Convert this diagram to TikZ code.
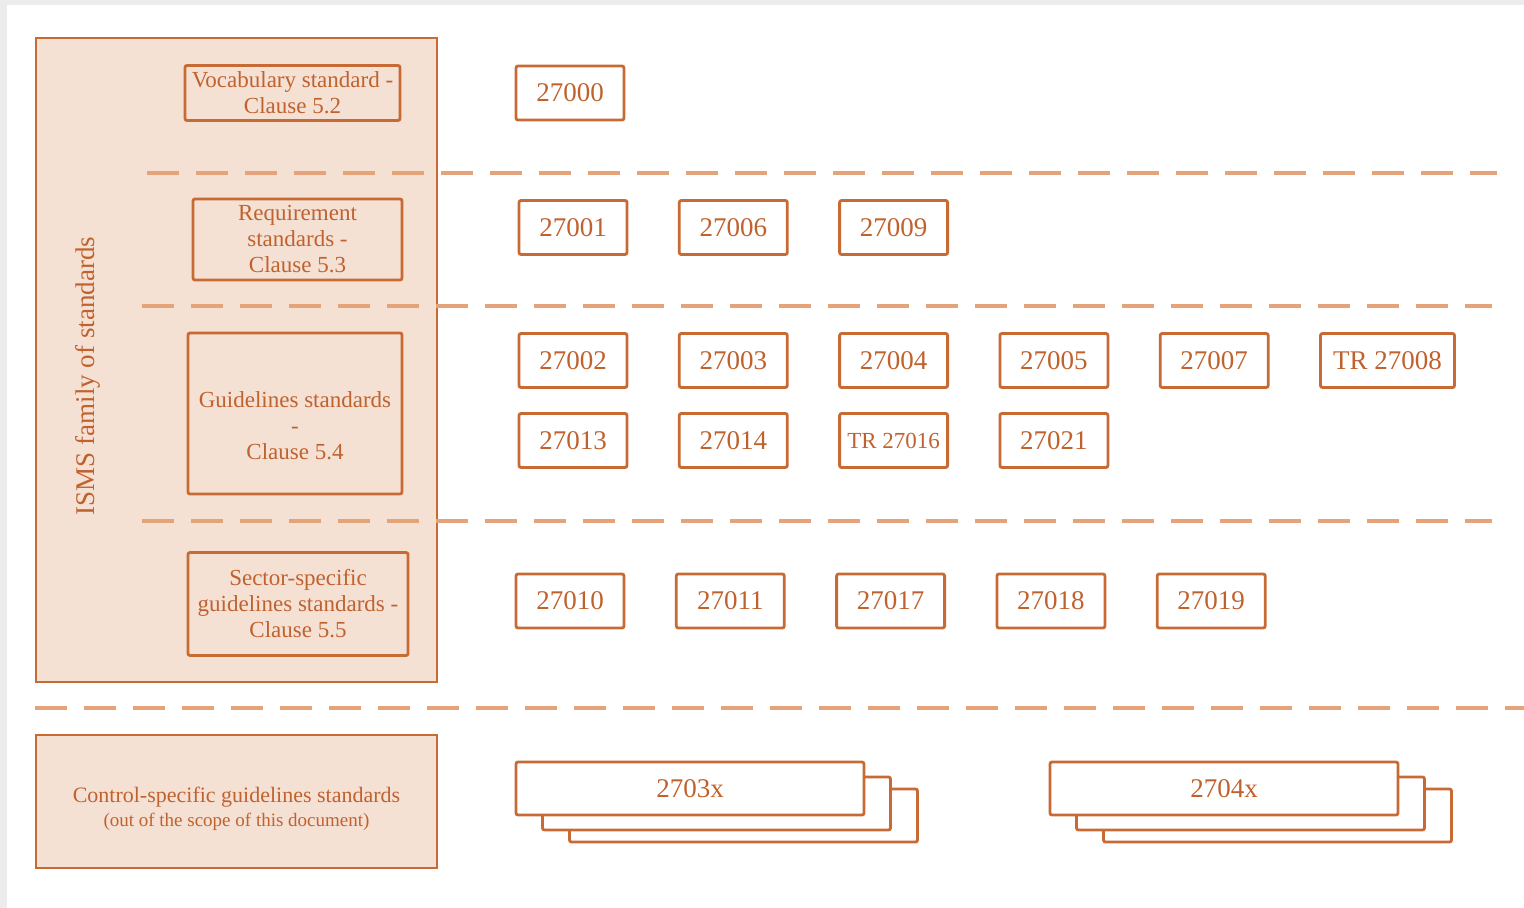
\documentclass[tikz,border=0pt]{standalone}
\usepackage{fontspec}
\setmainfont{Liberation Serif}
\usetikzlibrary{positioning}
\definecolor{isoline}{RGB}{199,106,52}
\definecolor{isofill}{RGB}{245,224,212}
\definecolor{isodash}{RGB}{229,163,122}
\definecolor{isotext}{RGB}{192,98,46}
\definecolor{shotgrey}{RGB}{236,236,236}

\begin{document}
\begin{tikzpicture}[x=0.5pt,y=-0.5pt,node distance=24.75pt,
  every node/.style={text=isotext},
  numbox/.style={draw=isoline,line width=1.4pt,fill=white,rounded corners=1pt,
    minimum width=54pt,minimum height=27pt,inner sep=0pt,
    font=\fontsize{13.5}{16}\selectfont},
  clausebox/.style={draw=isoline,line width=1.4pt,rounded corners=1pt,align=center,
    inner sep=0pt,font=\fontsize{11.5}{13}\selectfont},
  panel/.style={draw=isoline,line width=1.4pt,fill=isofill,inner sep=0pt},
  sep/.style={draw=isodash,line width=2pt,dash pattern=on 16pt off 8.5pt},
  stackbox/.style={numbox,minimum width=174pt,minimum height=26.5pt}]
  \fill[shotgrey] (0,0) rectangle (1524,908);
  \fill[white] (7,5) rectangle (1524,908);
  \useasboundingbox (0,0) rectangle (1524,908);

  \node[panel,minimum width=200.5pt,minimum height=322pt] (isms) at (236.5,360) {};
  \node[rotate=90,font=\fontsize{13.5}{16}\selectfont] (ismslabel) at (88,376) {ISMS family of standards};
  \node[clausebox,minimum width=107.5pt,minimum height=27.5pt] (vocab) at (292.5,93)
    {Vocabulary standard -\\Clause 5.2};
  \node[clausebox,minimum width=104.5pt,minimum height=40.5pt] (req) at (297.5,239.5)
    {Requirement\\standards -\\Clause 5.3};
  \node[clausebox,minimum width=107pt,minimum height=80.5pt] (guide) at (295,413.5) {};
  \node[clausebox,draw=none] (guidetext) at ([yshift=-6pt]guide.center)
    {Guidelines standards\\-\\Clause 5.4};
  \node[clausebox,minimum width=110pt,minimum height=51.5pt] (sector) at (298,604)
    {Sector-specific\\guidelines standards -\\Clause 5.5};

  \draw[sep] (147,173) -- (1497,173);
  \draw[sep] (142,306) -- (1492,306);
  \draw[sep] (142,521) -- (1492,521);
  \draw[sep] (35,708) -- (1524,708);

  \node[numbox] (s27000) at (570,93) {27000};

  \node[numbox] (s27001) at (573,227.5) {27001};
  \node[numbox,right=of s27001] (s27006) {27006};
  \node[numbox,right=of s27006] (s27009) {27009};

  \node[numbox] (s27002) at (573,360.5) {27002};
  \node[numbox,right=of s27002] (s27003) {27003};
  \node[numbox,right=of s27003] (s27004) {27004};
  \node[numbox,right=of s27004] (s27005) {27005};
  \node[numbox,right=of s27005] (s27007) {27007};
  \node[numbox,right=of s27007,minimum width=67pt] (s27008) {TR 27008};

  \node[numbox] (s27013) at (573,440.5) {27013};
  \node[numbox,right=of s27013] (s27014) {27014};
  \node[numbox,right=of s27014,font=\fontsize{11.5}{14}\selectfont] (s27016) {TR 27016};
  \node[numbox,right=of s27016] (s27021) {27021};

  \node[numbox] (s27010) at (570,601) {27010};
  \node[numbox,right=of s27010] (s27011) {27011};
  \node[numbox,right=of s27011] (s27017) {27017};
  \node[numbox,right=of s27017] (s27018) {27018};
  \node[numbox,right=of s27018] (s27019) {27019};

  \node[panel,minimum width=200.5pt,minimum height=66.5pt] (ctrl) at (236.5,801.5) {};
  \node[align=center,font=\fontsize{11}{12}\selectfont] (ctrltext) at ([yshift=-3.5pt]ctrl.center)
    {Control-specific guidelines standards\\{\fontsize{9.5}{12}\selectfont (out of the scope of this document)}};

  \node[stackbox] (s2703c) at (743.5,815.5) {};
  \node[stackbox] (s2703b) at (716.5,803.5) {};
  \node[stackbox] (s2703a) at (690,788.5) {2703x};

  \node[stackbox] (s2704c) at (1277.5,815.5) {};
  \node[stackbox] (s2704b) at (1250.5,803.5) {};
  \node[stackbox] (s2704a) at (1224,788.5) {2704x};
\end{tikzpicture}
\end{document}
